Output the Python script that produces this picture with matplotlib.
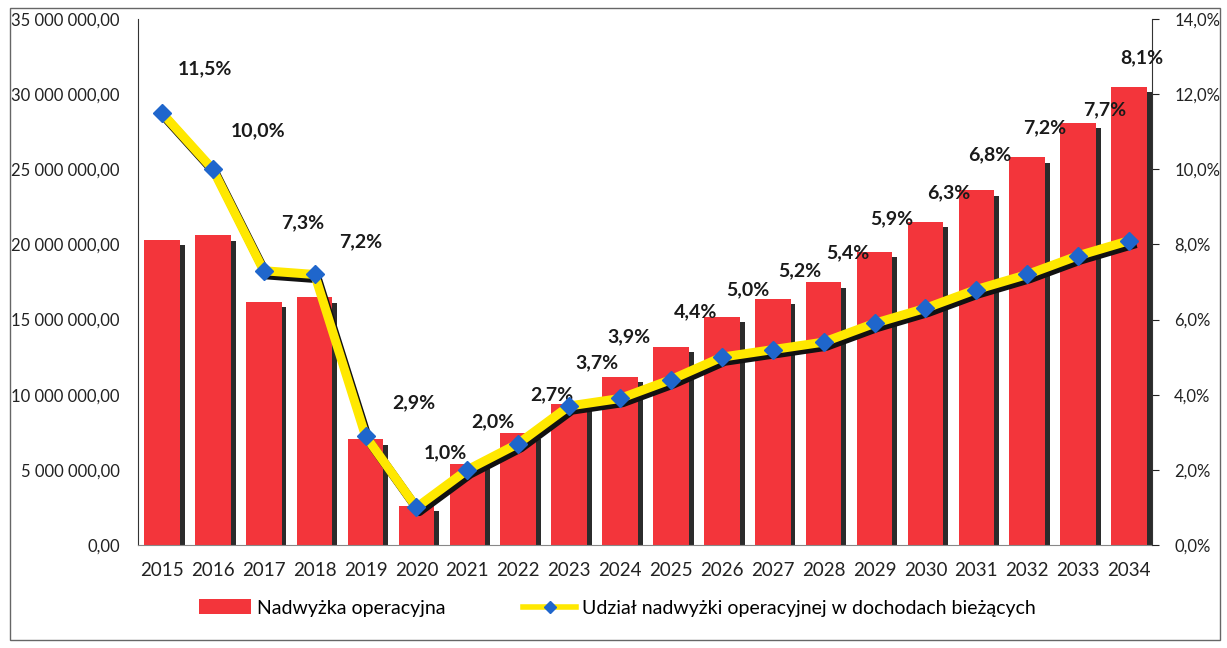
import matplotlib
matplotlib.use("Agg")
import matplotlib.pyplot as plt
import matplotlib.patheffects as pe
from matplotlib.lines import Line2D
from matplotlib.patches import Patch, Rectangle
import numpy as np

plt.rcParams['font.family'] = ['Lato', 'DejaVu Sans']

# Data
years = [str(y) for y in range(2015, 2035)]
surplus = [20.3e6, 20.6e6, 16.2e6, 16.5e6, 7.05e6, 2.6e6, 5.4e6, 7.45e6, 9.35e6, 11.2e6,
           13.2e6, 15.2e6, 16.4e6, 17.5e6, 19.5e6, 21.5e6, 23.6e6, 25.8e6, 28.1e6, 30.5e6]
share = [11.5, 10.0, 7.3, 7.2, 2.9, 1.0, 2.0, 2.7, 3.7, 3.9,
         4.4, 5.0, 5.2, 5.4, 5.9, 6.3, 6.8, 7.2, 7.7, 8.1]

bar_label = "Nadwyżka operacyjna"
line_label = "Udział nadwyżki operacyjnej w dochodach bieżących"

# label offsets (pixels) of the percentage labels relative to their points
label_offsets = [(43, 44), (45, 39), (39, 48), (46, 33), (48, 33), (29, 55), (26, 48),
                 (34, 49), (28, 43), (9, 62), (25, 68), (26, 67), (27, 79), (24, 89),
                 (17, 105), (23, 116), (13, 135), (17, 147), (26, 146), (13, 183)]

red = '#F3353B'
yellow = '#FFE800'
blue = '#1F66CC'
shadow = '#2b2b2b'

fig = plt.figure(figsize=(12.27, 6.48), dpi=100)
ax = fig.add_axes([138 / 1227, 1 - 545 / 648, (1152 - 138) / 1227, (545 - 19) / 648])
x = np.arange(len(years))

# bars with a dark 3D-like shadow
bars = ax.bar(x, surplus, width=0.7, color=red, zorder=2)
for b in bars:
    b.set_path_effects([pe.SimplePatchShadow(offset=(3.5, -4), shadow_rgbFace=shadow, alpha=1),
                        pe.Normal()])

ax.set_xlim(-0.47, 19.45)
ax.set_ylim(0, 35e6)
ax.set_yticks(np.arange(0, 35e6 + 1, 5e6))
ax.set_yticklabels([f"{v:,.2f}".replace(',', ' ').replace('.', ',') for v in np.arange(0, 35e6 + 1, 5e6)])
ax.set_xticks(x)
ax.set_xticklabels(years)
ax.tick_params(axis='y', length=0, pad=13, labelsize=12, colors='#222222')
ax.tick_params(axis='x', length=0, pad=12, labelsize=13.5, colors='#222222')
ax.spines['top'].set_visible(False)
ax.spines['right'].set_visible(False)
ax.spines['left'].set_color('#333333')
ax.spines['bottom'].set_color('#888888')
ax.spines['bottom'].set_linestyle((0, (2, 1)))

# share line on the secondary axis
ax2 = ax.twinx()
ax2.plot(x, share, color=yellow, lw=6.5, solid_joinstyle='round', zorder=3,
         path_effects=[pe.SimpleLineShadow(offset=(2, -3), shadow_color='#111111', alpha=1),
                       pe.Normal()])
ax2.plot(x, share, ls='none', marker='D', markersize=9.5, color=blue, zorder=4)
ax2.set_ylim(0, 14)
ax2.set_yticks(np.arange(0, 15, 2))
ax2.set_yticklabels([f"{v:.1f}%".replace('.', ',') for v in np.arange(0, 15, 2)])
ax2.tick_params(axis='y', length=5, width=0.8, pad=11, labelsize=12, colors='#222222')
for s in ['top', 'left', 'bottom']:
    ax2.spines[s].set_visible(False)
ax2.spines['right'].set_color('#333333')

for xi, v, (dx, dy) in zip(x, share, label_offsets):
    ax2.annotate(f"{v:.1f}%".replace('.', ','), (xi, v), xytext=(dx, dy),
                 textcoords='offset pixels', ha='center', va='center',
                 fontsize=14, fontweight='bold', color='#1a1a1a', annotation_clip=False)

# legend
handles = [Patch(facecolor=red, edgecolor='none'),
           Line2D([0], [0], color=yellow, lw=4, marker='D', markersize=6,
                  markerfacecolor=blue, markeredgecolor=blue)]
fig.legend(handles, [bar_label, line_label], loc='center', bbox_to_anchor=(0.503, 1 - 608 / 648),
           ncol=2, frameon=False, fontsize=14, handlelength=2.7, handleheight=0.8,
           handletextpad=0.3, columnspacing=4.0)

# outer frame of the scanned chart
fig.patches.append(Rectangle((10 / 1227, 1 - 640 / 648), 1210 / 1227, 632 / 648,
                             transform=fig.transFigure, fill=False, edgecolor='#666666', lw=1))

fig.savefig("out.png", dpi=100)
